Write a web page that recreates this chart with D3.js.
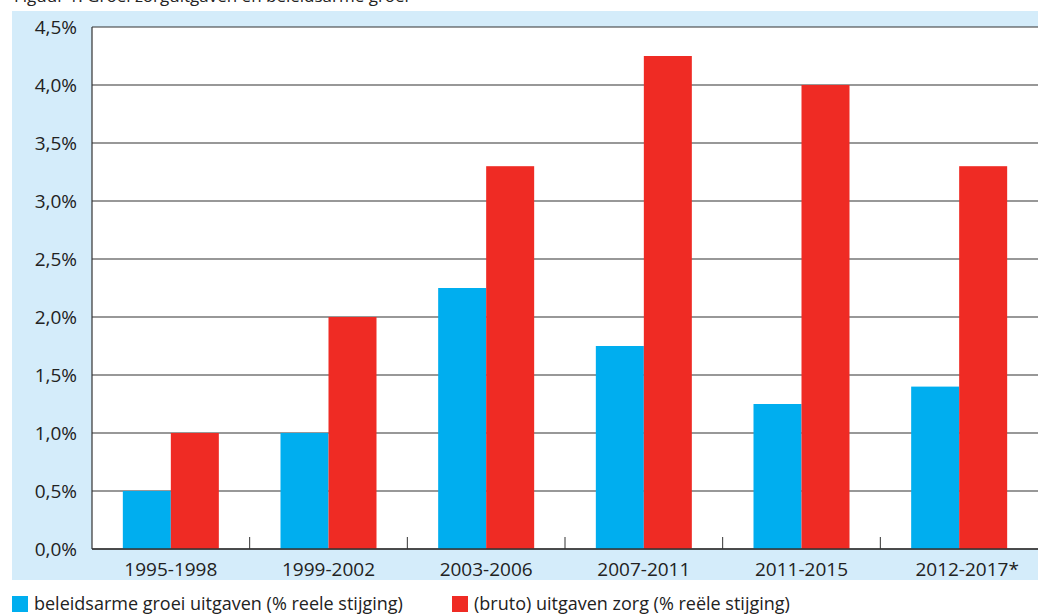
<!DOCTYPE html>
<html><head><meta charset="utf-8">
<script src="https://cdn.jsdelivr.net/npm/d3@7"></script>
<style>body{margin:0;background:#fff}text{font-family:"Open Sans",sans-serif;fill:#222}</style>
</head><body><svg id="c" width="1038" height="614"></svg>
<script>
var categories = ["1995-1998","1999-2002","2003-2006","2007-2011","2011-2015","2012-2017*"];
var beleidsarm = [0.5, 1.0, 2.25, 1.75, 1.25, 1.4];
var bruto = [1.0, 2.0, 3.3, 4.25, 4.0, 3.3];
var yTicks = [0,0.5,1,1.5,2,2.5,3,3.5,4,4.5];
var blue = "#00aeef", red = "#ef2b24";

var svg = d3.select("#c");
var L = 92, R = 1038, T = 27, B = 549;
// light blue band behind axes
svg.append("rect").attr("x",12).attr("y",11).attr("width",1026).attr("height",569).attr("fill","#d4ecfa");
svg.append("rect").attr("x",L).attr("y",T).attr("width",R-L).attr("height",B-T).attr("fill","#fff");
// cut-off title fragment
svg.append("text").attr("x",14).attr("y",2).attr("font-size",17).text("Figuur 1: Groei zorguitgaven en beleidsarme groei");

var x = d3.scaleBand().domain(categories).range([L,R]);
var y = d3.scaleLinear().domain([0,4.5]).range([B,T]);

svg.selectAll(".grid").data(yTicks).enter().append("line")
  .attr("x1",L).attr("x2",R).attr("y1",d=>y(d)).attr("y2",d=>y(d))
  .attr("stroke","#333").attr("stroke-width",1.2);
svg.append("line").attr("x1",L).attr("x2",L).attr("y1",T).attr("y2",B).attr("stroke","#333").attr("stroke-width",1.2);

svg.selectAll(".ylab").data(yTicks).enter().append("text")
  .attr("x",77).attr("y",d=>y(d)+7).attr("text-anchor","end").attr("font-size",19)
  .text(d=>d3.format(".1f")(d).replace(".",",")+"%");

var bw = 48, off = (x.bandwidth()-2*bw)/2;
categories.forEach(function(c,i){
  svg.append("rect").attr("x",x(c)+off).attr("y",y(beleidsarm[i])).attr("width",bw).attr("height",B-y(beleidsarm[i])).attr("fill",blue);
  svg.append("rect").attr("x",x(c)+off+bw).attr("y",y(bruto[i])).attr("width",bw).attr("height",B-y(bruto[i])).attr("fill",red);
  if(i>0) svg.append("line").attr("x1",x(c)).attr("x2",x(c)).attr("y1",B).attr("y2",B-12).attr("stroke","#333");
  svg.append("text").attr("x",x(c)+x.bandwidth()/2+(i==5?8:0)).attr("y",576).attr("text-anchor","middle").attr("font-size",19).text(c);
});
svg.append("line").attr("x1",L).attr("x2",R).attr("y1",B).attr("y2",B).attr("stroke","#333").attr("stroke-width",1.5);

var leg = [["beleidsarme groei uitgaven (% reele stijging)",blue,12],["(bruto) uitgaven zorg (% reële stijging)",red,452]];
leg.forEach(function(l){
  svg.append("rect").attr("x",l[2]).attr("y",596).attr("width",16).attr("height",16).attr("fill",l[1]);
  svg.append("text").attr("x",l[2]+22).attr("y",610).attr("font-size",18).text(l[0]);
});
</script></body></html>
